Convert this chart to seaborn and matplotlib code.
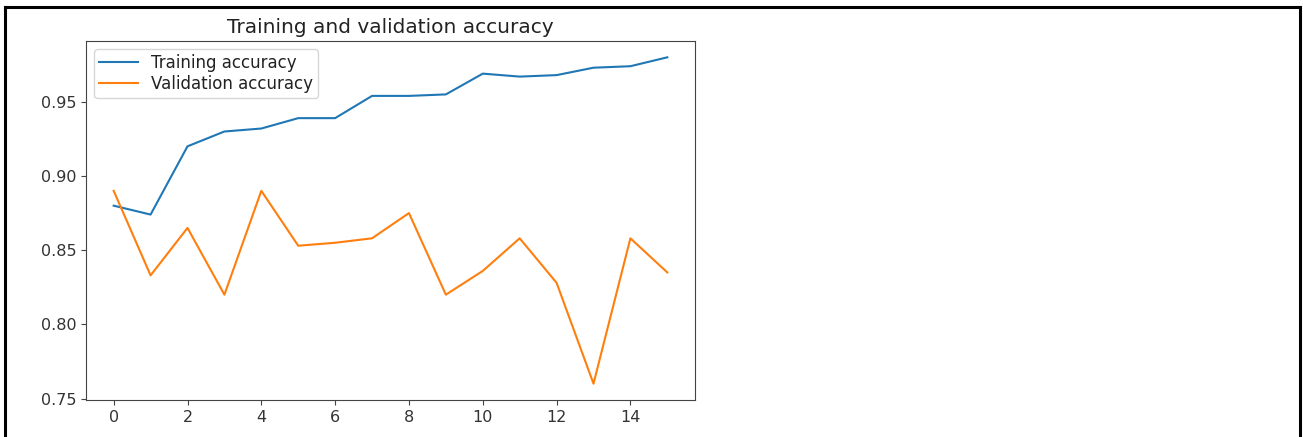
"""Training vs validation accuracy per epoch (plain matplotlib look, drawn with seaborn)."""

import matplotlib.pyplot as plt
import pandas as pd
import seaborn as sns
from matplotlib.lines import Line2D

epochs = list(range(16))
train_acc = [0.880, 0.874, 0.920, 0.930, 0.932, 0.939, 0.939, 0.954,
             0.954, 0.955, 0.969, 0.967, 0.968, 0.973, 0.974, 0.980]
val_acc = [0.890, 0.833, 0.865, 0.820, 0.890, 0.853, 0.855, 0.858,
           0.875, 0.820, 0.836, 0.858, 0.828, 0.760, 0.858, 0.835]

df = pd.DataFrame({"epoch": epochs, "train": train_acc, "val": val_acc})

plt.rcParams["font.family"] = ["DejaVu Sans"]

fig = plt.figure(figsize=(13.03, 4.37), dpi=100)
ax = fig.add_axes([86 / 1303, 37 / 437, 609 / 1303, 359 / 437])

sns.lineplot(data=df, x="epoch", y="train", ax=ax, color="#1f77b4",
             linewidth=1.5, label="Training accuracy")
sns.lineplot(data=df, x="epoch", y="val", ax=ax, color="#ff7f0e",
             linewidth=1.5, label="Validation accuracy")

ax.set_xticks(range(0, 16, 2))
ax.set_yticks([0.75, 0.80, 0.85, 0.90, 0.95])
ax.set_xlabel("")
ax.set_ylabel("")
ax.tick_params(labelsize=11.5, labelcolor="#333333", color="#444444")
for s in ax.spines.values():
    s.set_color("#444444")
ax.set_title("Training and validation accuracy", fontsize=14.5, color="#222222")
leg = ax.legend(loc="upper left", fontsize=12, labelspacing=0.15,
                borderpad=0.3, handlelength=2.3)
for t in leg.get_texts():
    t.set_color("#222222")

# black frame around the screenshot (no bottom edge)
for xs, ys in [([0.004, 0.998], [0.984, 0.984]),
               ([0.0035, 0.0035], [0.0, 0.984]),
               ([0.998, 0.998], [0.0, 0.984])]:
    fig.add_artist(Line2D(xs, ys, transform=fig.transFigure, color="black", linewidth=2.2))

fig.savefig("out.png", dpi=100)
